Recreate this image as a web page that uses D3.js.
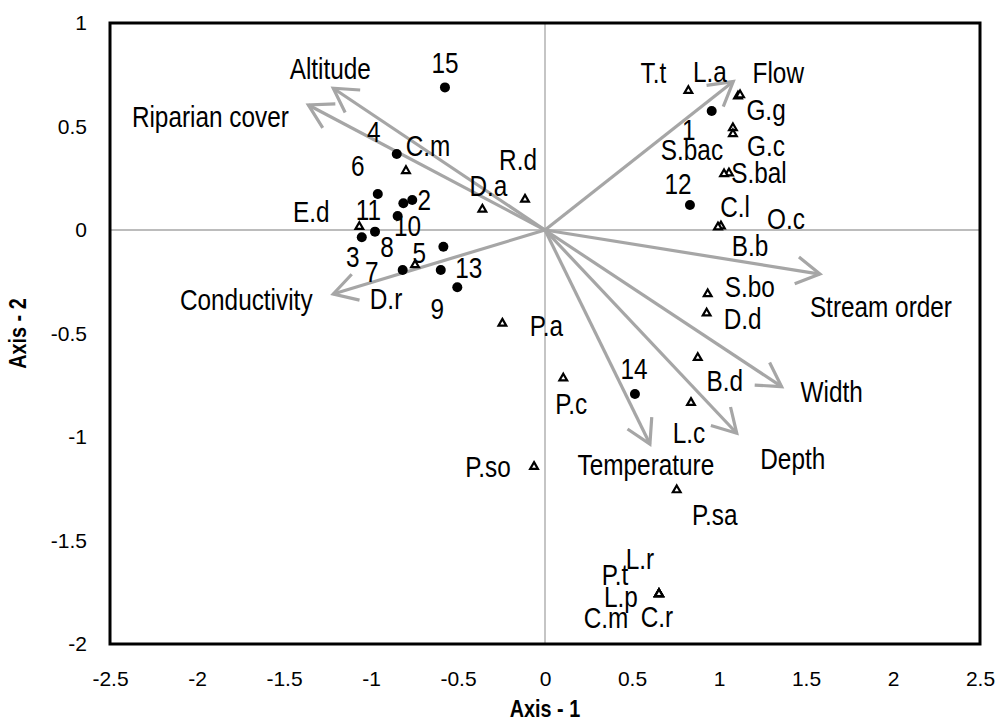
<!DOCTYPE html>
<html>
<head>
<meta charset="utf-8">
<script src="https://cdn.jsdelivr.net/npm/d3@7"></script>
<style>
  body { margin: 0; background: #fff; }
  .tick text { font-family: "Liberation Sans", Arial, sans-serif; fill: #000; }
  .lbl { font-family: "Liberation Sans", Arial, sans-serif; font-size: 29px; fill: #000; }
</style>
</head>
<body>
<div class="biplot-container"></div>
<script>
// Sites (numbered, filled circles)
const siteNames = ["1","2","3","4","5","6","7","8","9","10","11","12","13","14","15"];
const siteX = [0.958,-0.763,-1.053,-0.852,-0.584,-0.961,-0.818,-0.977,-0.504,-0.847,-0.814,0.833,-0.599,0.517,-0.575];
const siteY = [0.575,0.145,-0.035,0.367,-0.081,0.174,-0.193,-0.008,-0.277,0.068,0.129,0.121,-0.193,-0.792,0.689];

// Species (open triangles)
const speciesNames = ["T.t","L.a","G.g","G.c","S.bac","S.bal","C.l","O.c","B.b","S.bo","D.d","B.d","L.c","P.c","P.a",
  "P.so","P.sa","L.r","P.t","L.p","C.m","C.r","C.m","R.d","D.a","E.d","D.r"];
const speciesX = [0.824,1.109,1.121,1.080,1.080,1.057,1.029,1.011,0.994,0.935,0.929,0.878,0.839,0.105,-0.245,
  -0.063,0.757,0.655,0.655,0.655,0.655,0.655,-0.799,-0.115,-0.360,-1.067,-0.747];
const speciesY = [0.673,0.647,0.652,0.493,0.464,0.275,0.271,0.019,0.014,-0.309,-0.402,-0.617,-0.834,-0.716,-0.451,
  -1.143,-1.256,-1.758,-1.758,-1.758,-1.758,-1.758,0.286,0.148,0.100,0.016,-0.169];

// Environmental vectors
const envNames = ["Altitude","Riparian cover","Conductivity","Flow","Stream order","Width","Depth","Temperature"];
const envX = [-1.217,-1.360,-1.217,1.082,1.580,1.360,1.102,0.603];
const envY = [0.685,0.604,-0.309,0.717,-0.213,-0.757,-0.982,-1.034];

const xTicks = [-2.5,-2,-1.5,-1,-0.5,0,0.5,1,1.5,2,2.5];
const yTicks = [1,0.5,0,-0.5,-1,-1.5,-2];

// label nudges in px (label centre relative to the mark / arrow tip)
const siteNudge = [[-23,19],[12,0],[-9,19],[-23,-22],[-24,6],[-20,-28],[-31,2],[12,15],[-20,21],[10,10],[-35,6],[-12,-21],[28,-2],[-1,-25],[0,-25]];
const speciesNudge = [[-35,-18],[-28,-25],[26,15],[33,18],[-41,16],[30,-1],[11,33],[65,-8],[32,18],[42,-7],[36,5],[27,23],[-2,30],[8,25],[44,2],
  [-46,0],[38,25],[-19,-35],[-44,-19],[-38,3],[-53,24],[-2,23],[22,-25],[-7,-40],[6,-24],[-48,-15],[-29,34]];
const envNudge = [[-3,-20],[-98,12],[-87,6],[45,-9],[61,32],[50,5],[56,25],[-4,21]];

const sites = siteNames.map((n, i) => ({ name: n, x: siteX[i], y: siteY[i], nudge: siteNudge[i] }));
const species = speciesNames.map((n, i) => ({ name: n, x: speciesX[i], y: speciesY[i], nudge: speciesNudge[i] }));
const env = envNames.map((n, i) => ({ name: n, x: envX[i], y: envY[i], nudge: envNudge[i] }));

const margin = { top: 23, right: 23, bottom: 80, left: 110 };
const width = 1003 - margin.left - margin.right;
const height = 724 - margin.top - margin.bottom;
const narrow = 0.84; // the original labels use a condensed face

const svg = d3.select('.biplot-container')
    .append('svg')
    .attr('width', 1003)
    .attr('height', 724)
    .append('g')
    .attr('transform', `translate(${margin.left}, ${margin.top})`);

const xScale = d3.scaleLinear().domain([-2.5, 2.5]).range([0, width]);
const yScale = d3.scaleLinear().domain([-2, 1]).range([height, 0]);

const grey = '#a6a6a6';

// zero lines
svg.append('line')
    .attr('x1', xScale(0)).attr('x2', xScale(0))
    .attr('y1', 0).attr('y2', height)
    .attr('stroke', grey).attr('stroke-width', 1.3);
svg.append('line')
    .attr('x1', 0).attr('x2', width)
    .attr('y1', yScale(0)).attr('y2', yScale(0))
    .attr('stroke', grey).attr('stroke-width', 1.3);

// axes
const xAxis = svg.append('g')
    .attr('transform', `translate(0, ${height})`)
    .call(d3.axisBottom(xScale).tickValues(xTicks).tickSize(0).tickPadding(27).tickFormat(d => String(d)));
xAxis.select('.domain').remove();
xAxis.selectAll('text').style('font-size', '21px');

const yAxis = svg.append('g')
    .call(d3.axisLeft(yScale).tickValues(yTicks).tickSize(0).tickPadding(23).tickFormat(d => String(d)));
yAxis.select('.domain').remove();
yAxis.selectAll('text').style('font-size', '21px');

// environmental arrows
const arrowG = svg.append('g')
    .attr('stroke', grey).attr('stroke-width', 3.2)
    .attr('fill', 'none').attr('stroke-linecap', 'butt');
const headLen = 27, headAng = Math.PI / 6;
env.forEach(d => {
    const x0 = xScale(0), y0 = yScale(0);
    const x1 = xScale(d.x), y1 = yScale(d.y);
    const a = Math.atan2(y0 - y1, x0 - x1); // pointing back towards origin
    arrowG.append('line')
        .attr('x1', x0).attr('y1', y0).attr('x2', x1).attr('y2', y1);
    arrowG.append('path')
        .attr('d', d3.line()([
            [x1 + headLen * Math.cos(a + headAng), y1 + headLen * Math.sin(a + headAng)],
            [x1, y1],
            [x1 + headLen * Math.cos(a - headAng), y1 + headLen * Math.sin(a - headAng)]
        ]));
});

// frame
svg.append('rect')
    .attr('x', 0).attr('y', 0)
    .attr('width', width).attr('height', height)
    .attr('fill', 'none').attr('stroke', '#000').attr('stroke-width', 3);

// species triangles
svg.selectAll('.sp')
    .data(species)
    .enter()
    .append('path')
    .attr('class', 'sp')
    .attr('d', d3.symbol().type(d3.symbolTriangle).size(26))
    .attr('transform', d => `translate(${xScale(d.x)}, ${yScale(d.y)})`)
    .attr('fill', '#fff')
    .attr('stroke', '#000')
    .attr('stroke-width', 2.2);

// site circles
svg.selectAll('.site')
    .data(sites)
    .enter()
    .append('circle')
    .attr('class', 'site')
    .attr('cx', d => xScale(d.x))
    .attr('cy', d => yScale(d.y))
    .attr('r', 5)
    .attr('fill', '#000');

// labels
function addLabels(data) {
    svg.append('g').selectAll('text')
        .data(data)
        .enter()
        .append('text')
        .attr('class', 'lbl')
        .attr('transform', d => `translate(${xScale(d.x) + d.nudge[0]}, ${yScale(d.y) + d.nudge[1]}) scale(${narrow}, 1)`)
        .attr('dy', '0.36em')
        .attr('text-anchor', 'middle')
        .text(d => d.name);
}
addLabels(env);
addLabels(sites);
addLabels(species);

// axis titles
svg.append('text')
    .attr('transform', `translate(${width / 2}, ${height + 73}) scale(0.86, 1)`)
    .attr('text-anchor', 'middle')
    .style('font-family', '"Liberation Sans", Arial, sans-serif')
    .style('font-weight', 'bold')
    .style('font-size', '23px')
    .text('Axis - 1');

svg.append('text')
    .attr('transform', `translate(-92, ${height / 2}) rotate(-90) scale(0.86, 1)`)
    .attr('dy', '0.36em')
    .attr('text-anchor', 'middle')
    .style('font-family', '"Liberation Sans", Arial, sans-serif')
    .style('font-weight', 'bold')
    .style('font-size', '23px')
    .text('Axis - 2');
</script>
</body>
</html>
